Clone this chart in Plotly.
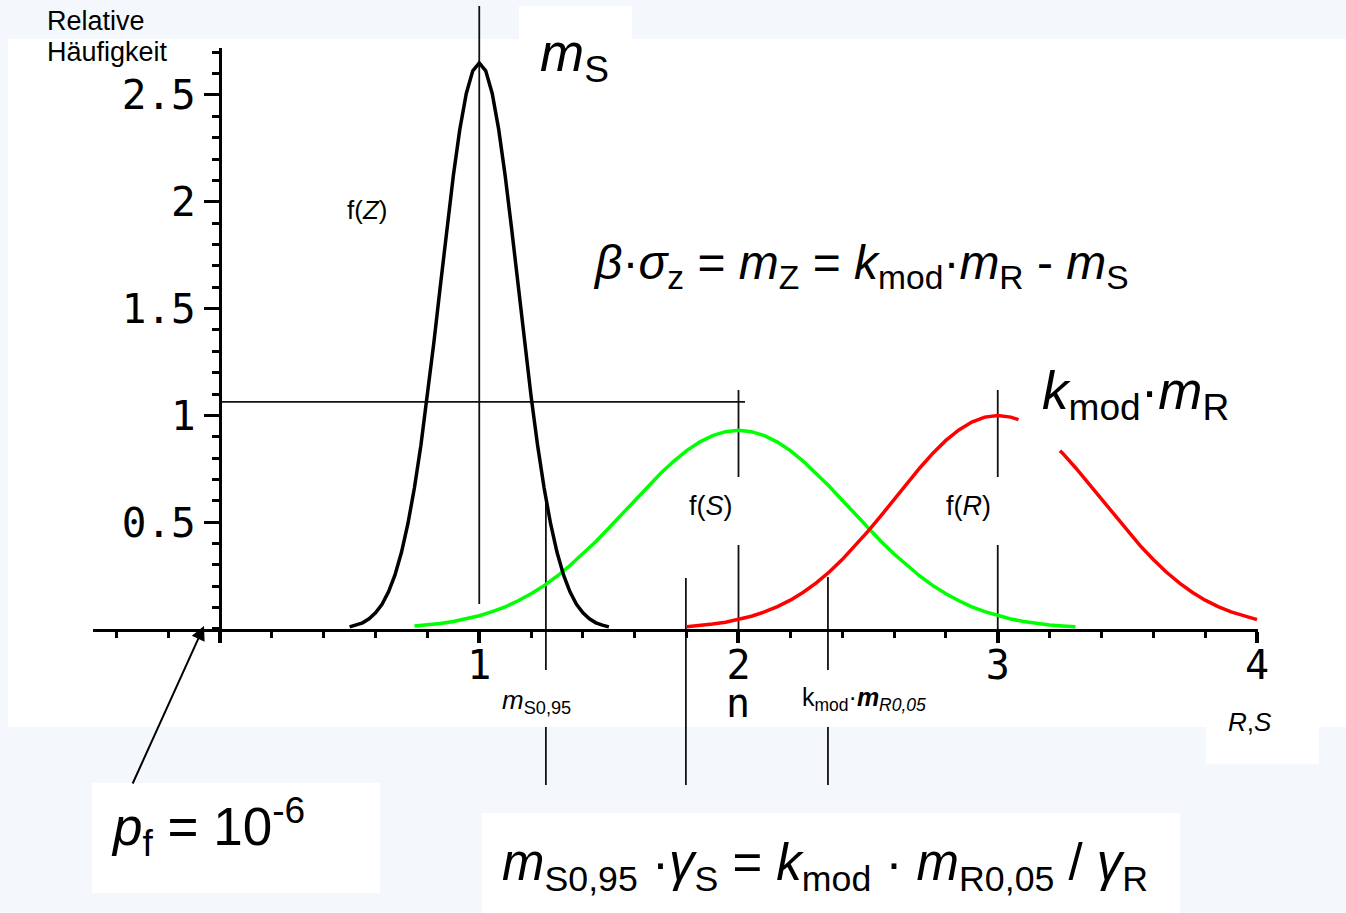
import plotly.graph_objects as go

# ---------------- data ----------------
# f(Z): distribution of the safety margin Z
z_x = [0.500, 0.525, 0.550, 0.575, 0.600, 0.625, 0.650, 0.675, 0.700, 0.725,
       0.750, 0.775, 0.800, 0.825, 0.850, 0.875, 0.900, 0.925, 0.950, 0.975,
       1.000, 1.025, 1.050, 1.075, 1.100, 1.125, 1.150, 1.175, 1.200, 1.225,
       1.250, 1.275, 1.300, 1.325, 1.350, 1.375, 1.400, 1.425, 1.450, 1.475, 1.500]
z_y = [0.010, 0.018, 0.029, 0.048, 0.076, 0.116, 0.174, 0.253, 0.359, 0.494,
       0.661, 0.860, 1.089, 1.342, 1.607, 1.873, 2.122, 2.339, 2.507, 2.613,
       2.650, 2.613, 2.507, 2.339, 2.122, 1.873, 1.607, 1.342, 1.089, 0.860,
       0.661, 0.494, 0.359, 0.253, 0.174, 0.116, 0.076, 0.048, 0.029, 0.018, 0.010]

# f(S): action effects
s_x = [0.75, 0.80, 0.85, 0.90, 0.95, 1.00, 1.05, 1.10, 1.15, 1.20, 1.25, 1.30, 1.35,
       1.40, 1.45, 1.50, 1.55, 1.60, 1.65, 1.70, 1.75, 1.80, 1.85, 1.90, 1.95, 2.00,
       2.05, 2.10, 2.15, 2.20, 2.25, 2.30, 2.35, 2.40, 2.45, 2.50, 2.55, 2.60, 2.65,
       2.70, 2.75, 2.80, 2.85, 2.90, 2.95, 3.00, 3.05, 3.10, 3.15, 3.20, 3.25, 3.30]
s_y = [0.014, 0.019, 0.026, 0.035, 0.047, 0.062, 0.081, 0.104, 0.132, 0.165, 0.203, 0.247, 0.297,
       0.351, 0.410, 0.473, 0.538, 0.603, 0.668, 0.729, 0.785, 0.835, 0.875, 0.905, 0.924, 0.930,
       0.924, 0.905, 0.875, 0.835, 0.785, 0.729, 0.668, 0.603, 0.538, 0.473, 0.410, 0.351, 0.297,
       0.247, 0.203, 0.165, 0.132, 0.104, 0.081, 0.062, 0.047, 0.035, 0.026, 0.019, 0.014, 0.010]

# f(R): resistance (interrupted behind the k_mod·m_R label)
r_x = [1.80, 1.85, 1.90, 1.95, 2.00, 2.05, 2.10, 2.15, 2.20, 2.25, 2.30, 2.35, 2.40,
       2.45, 2.50, 2.55, 2.60, 2.65, 2.70, 2.75, 2.80, 2.85, 2.90, 2.95, 3.00, 3.05, 3.08,
       None,
       3.24, 3.25, 3.30, 3.35, 3.40, 3.45, 3.50, 3.55, 3.60, 3.65, 3.70, 3.75, 3.80,
       3.85, 3.90, 3.95, 4.00]
r_y = [0.011, 0.016, 0.023, 0.032, 0.044, 0.060, 0.080, 0.105, 0.135, 0.172, 0.216, 0.267, 0.325,
       0.389, 0.458, 0.531, 0.607, 0.682, 0.755, 0.823, 0.883, 0.932, 0.969, 0.992, 1.000, 0.992, 0.980,
       None,
       0.835, 0.823, 0.755, 0.682, 0.607, 0.531, 0.458, 0.389, 0.325, 0.267, 0.216, 0.172, 0.135,
       0.105, 0.080, 0.060, 0.044]

# characteristic values marked with thin lines
m_S_value = 1.0
m_S095_value = 1.257
n_value = 1.797
m_Smean_value = 2.0
kmod_mR005_value = 2.345
kmod_mR_value = 3.0
level_value = 1.063

x_tick_vals = [0, 1, 2, 3, 4]
x_tick_text = ["", "1", "2", "3", "4"]
y_tick_vals = [0.5, 1, 1.5, 2, 2.5]
y_tick_text = ["0.5", "1", "1.5", "2", "2.5"]

# ---------------- layout geometry ----------------
W, H = 1346, 913
X0, XS = 220.0, 259.25      # pixel of x=0, pixels per unit
Y0, YS = 629.0, 213.6       # pixel of y=0, pixels per unit


def dx(px):
    return (px - X0) / XS


def dy(py):
    return (Y0 - py) / YS


def P(px, py):
    return px / W, 1 - py / H


SANS = "Liberation Sans, Arial, sans-serif"
MONO = "DejaVu Sans Mono, monospace"
BG = "#F4F8FD"

fig = go.Figure()

# distribution curves on the visible axes (x2/y2)
fig.add_trace(go.Scatter(x=s_x, y=s_y, mode="lines", line=dict(color="#00FF00", width=3.5),
                         xaxis="x2", yaxis="y2", showlegend=False, hoverinfo="skip"))
fig.add_trace(go.Scatter(x=r_x, y=r_y, mode="lines", line=dict(color="#FF0000", width=3.5),
                         xaxis="x2", yaxis="y2", showlegend=False, hoverinfo="skip",
                         connectgaps=False))
fig.add_trace(go.Scatter(x=z_x, y=z_y, mode="lines", line=dict(color="#000000", width=3.5),
                         xaxis="x2", yaxis="y2", showlegend=False, hoverinfo="skip"))

# thin reference lines on the full-page axes (x/y)
lx, ly = [], []


def seg(xv, py_top, py_bot):
    lx.extend([xv, xv, None])
    ly.extend([dy(py_top), dy(py_bot), None])


seg(m_S_value, 6, 604)
seg(m_Smean_value, 390, 477)
seg(m_Smean_value, 545, 629)
seg(kmod_mR_value, 390, 477)
seg(kmod_mR_value, 545, 629)
seg(m_S095_value, 497, 670)
seg(m_S095_value, 727, 785)
seg(n_value, 578, 785)
seg(kmod_mR005_value, 577, 670)
seg(kmod_mR005_value, 727, 785)
lx.extend([0, dx(745), None])
ly.extend([level_value, level_value, None])
fig.add_trace(go.Scatter(x=lx, y=ly, mode="lines", line=dict(color="#111111", width=1.8),
                         xaxis="x", yaxis="y", showlegend=False, hoverinfo="skip"))

# white panels
shapes = []
for (x0p, y0p, x1p, y1p) in [(8, 39, W, 727), (519, 6, 632, 40), (1206, 720, 1319, 764),
                             (92, 783, 380, 893), (482, 813, 1180, H)]:
    a0, b0 = P(x0p, y1p)
    a1, b1 = P(x1p, y0p)
    shapes.append(dict(type="rect", xref="paper", yref="paper", x0=a0, y0=b0, x1=a1, y1=b1,
                       fillcolor="white", line=dict(width=0), layer="below"))

annotations = []


def ann(text, px, py, size, xanchor="left", family=SANS):
    ax_, ay_ = P(px, py)
    annotations.append(dict(text=text, x=ax_, y=ay_, xref="paper", yref="paper",
                            xanchor=xanchor, yanchor="middle", showarrow=False,
                            font=dict(family=family, size=size, color="black")))


ann("Relative", 45, 21, 27)
ann("Häufigkeit", 45, 52, 27)
ann("<i>m</i><sub>S</sub>", 538, 56, 53)
ann("f(<i>Z</i>)", 367, 210, 26, "center")
ann("<i>β</i>·<i>σ</i><sub>z</sub> = <i>m</i><sub>Z</sub> = <i>k</i><sub>mod</sub>·<i>m</i><sub>R</sub> - <i>m</i><sub>S</sub>",
    591, 266, 48)
ann("<i>k</i><sub>mod</sub>·<i>m</i><sub>R</sub>", 1040, 394, 53)
ann("f(<i>S</i>)", 711, 506, 27, "center")
ann("f(<i>R</i>)", 968, 506, 27, "center")
ann("<i>m</i><sub>S0,95</sub>", 500, 701, 26)
ann("k<sub>mod</sub>·<b><i>m</i></b><sub><i>R0,05</i></sub>", 800, 699, 25)
ann("n", 738, 703, 40, "center", MONO)
ann("<i>R</i>,<i>S</i>", 1226, 722, 26)
ann("<i>p</i><sub>f</sub> = 10<sup>-6</sup>", 109, 826, 53)
ann("<i>m</i><sub>S0,95</sub> ·<i>γ</i><sub>S</sub> = <i>k</i><sub>mod</sub> · <i>m</i><sub>R0,05</sub> / <i>γ</i><sub>R</sub>",
    500, 866, 51)

# arrow to p_f
tx, ty = P(204, 626)
annotations.append(dict(text="", x=tx, y=ty, xref="paper", yref="paper", showarrow=True,
                        ax=132 - 204, ay=785 - 626, axref="pixel", ayref="pixel",
                        arrowhead=2, arrowsize=1.4, arrowwidth=2, arrowcolor="black"))

x2_range = [-0.49, 4.005]
y2_range = [0, 2.72]

fig.update_layout(
    width=W, height=H, autosize=False,
    margin=dict(l=0, r=0, t=0, b=0, pad=0, autoexpand=False),
    paper_bgcolor=BG, plot_bgcolor="rgba(0,0,0,0)",
    showlegend=False,
    xaxis=dict(domain=[0, 1], range=[dx(0), dx(W)], visible=False, fixedrange=True),
    yaxis=dict(domain=[0, 1], range=[dy(H), dy(0)], visible=False, fixedrange=True),
    xaxis2=dict(
        domain=[(X0 + x2_range[0] * XS) / W, (X0 + x2_range[1] * XS) / W],
        range=x2_range, anchor="y2", showgrid=False, zeroline=False,
        showline=True, linecolor="black", linewidth=3,
        tickmode="array", tickvals=x_tick_vals, ticktext=x_tick_text,
        ticks="outside", ticklen=11, tickwidth=4, tickcolor="black",
        ticklabelstandoff=-12,
        tickfont=dict(family=MONO, size=40, color="black"),
        minor=dict(tickmode="linear", tick0=0, dtick=0.2, ticks="outside",
                   ticklen=6, tickwidth=3, tickcolor="black"),
        fixedrange=True, automargin=False,
    ),
    yaxis2=dict(
        domain=[(H - Y0) / H, (H - (Y0 - y2_range[1] * YS)) / H],
        range=y2_range, anchor="free", position=X0 / W, showgrid=False, zeroline=False,
        showline=True, linecolor="black", linewidth=3,
        tickmode="array", tickvals=y_tick_vals, ticktext=y_tick_text,
        ticks="outside", ticklen=15, tickwidth=3, tickcolor="black",
        tickfont=dict(family=MONO, size=41, color="black"),
        minor=dict(tickmode="linear", tick0=0, dtick=0.1, ticks="outside",
                   ticklen=7, tickwidth=3, tickcolor="black"),
        fixedrange=True, automargin=False,
    ),
    shapes=shapes,
    annotations=annotations,
)

fig.write_html("out.html", config={"displayModeBar": False, "responsive": False},
               post_script="document.body.style.margin='0';document.body.style.overflow='hidden';")
